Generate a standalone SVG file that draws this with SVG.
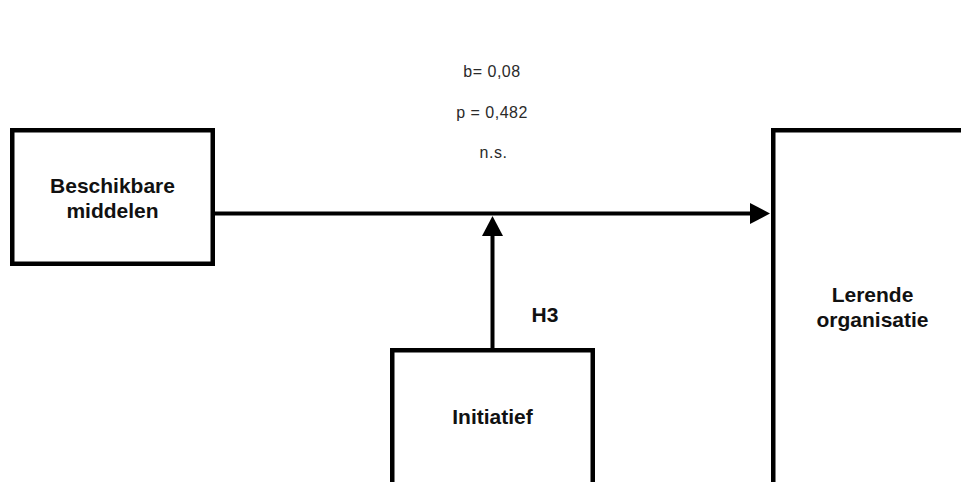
<svg xmlns="http://www.w3.org/2000/svg" width="961" height="482" viewBox="0 0 961 482">
  <defs>
    <style>
      .box { fill: #ffffff; stroke: #000000; stroke-width: 4.5; }
      .label { font-family: "Liberation Sans", Arial, Helvetica, sans-serif; font-weight: bold; font-size: 21px; fill: #111111; text-anchor: middle; }
      .stat { font-family: "Liberation Sans", Arial, Helvetica, sans-serif; font-size: 16px; letter-spacing: 0.5px; fill: #2a2a2a; text-anchor: middle; }
      .edge { fill: none; stroke: #000000; stroke-width: 4; }
    </style>
    <marker id="arrow" markerUnits="userSpaceOnUse" markerWidth="20" markerHeight="21" viewBox="0 0 20 21" refX="2" refY="10.5" orient="auto">
      <path d="M0,0 L20,10.5 L0,21 Z" fill="#000000"/>
    </marker>
  </defs>
  <rect width="961" height="482" fill="#ffffff"/>

  <!-- connectors -->
  <g id="connectors">
    <line class="edge" x1="215" y1="213.5" x2="752" y2="213.5" marker-end="url(#arrow)"/>
    <line class="edge" x1="492.5" y1="349" x2="492.5" y2="234" marker-end="url(#arrow)"/>
  </g>

  <!-- effect statistics -->
  <g id="stats">
    <text class="stat" x="492" y="77">b= 0,08</text>
    <text class="stat" x="492" y="117.5">p = 0,482</text>
    <text class="stat" x="493.5" y="158">n.s.</text>
  </g>

  <g id="h3-label">
    <text class="label" x="545" y="322" font-size="23">H3</text>
  </g>

  <g id="node-beschikbare-middelen">
    <rect class="box" x="12.25" y="130.25" width="200.5" height="133.5"/>
    <text class="label" x="112.5" y="193">Beschikbare</text>
    <text class="label" x="112.5" y="218">middelen</text>
  </g>

  <g id="node-initiatief">
    <rect class="box" x="392.25" y="350.25" width="200.5" height="200"/>
    <text class="label" x="492.5" y="424">Initiatief</text>
  </g>

  <g id="node-lerende-organisatie">
    <rect class="box" x="773.25" y="130.25" width="200" height="400"/>
    <text class="label" x="872.5" y="302">Lerende</text>
    <text class="label" x="872.5" y="327">organisatie</text>
  </g>
</svg>
